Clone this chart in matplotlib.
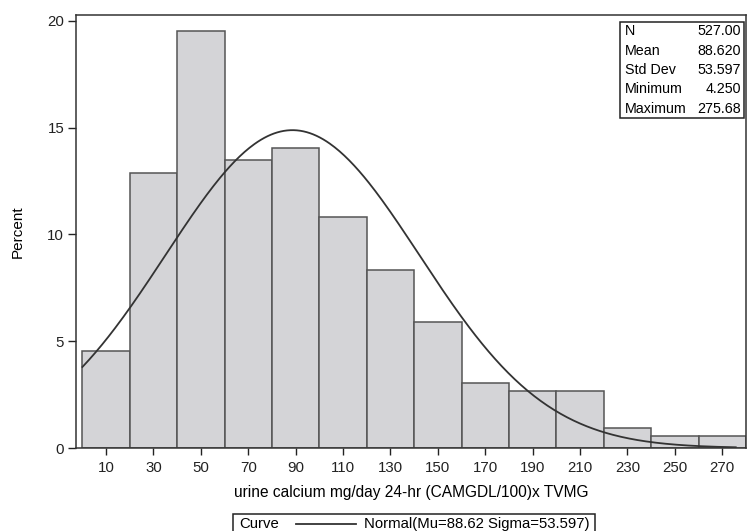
import numpy as np
import matplotlib
matplotlib.use("Agg")
import matplotlib.pyplot as plt
from matplotlib.patches import Rectangle
from matplotlib.lines import Line2D

plt.rcParams['font.family'] = ['Liberation Sans', 'DejaVu Sans']

# histogram bins (mg/day) and counts per bin, N = 527
bin_left = [0, 20, 40, 60, 80, 100, 120, 140, 160, 180, 200, 220, 240, 260]
bin_width = 20
counts = [24, 68, 103, 71, 74, 57, 44, 31, 16, 14, 14, 5, 3, 3]
n_total = 527

# fitted normal
mu = 88.62
sigma = 53.597
x_min = 4.25
x_max = 275.68

stat_names = ["N", "Mean", "Std Dev", "Minimum", "Maximum"]
stat_values = ["527.00", "88.620", "53.597", "4.250", "275.68"]

xticks = [10, 30, 50, 70, 90, 110, 130, 150, 170, 190, 210, 230, 250, 270]
yticks = [0, 5, 10, 15, 20]

W, H = 747, 531
pct = np.array(counts) / n_total * 100

fig = plt.figure(figsize=(W / 100, H / 100), dpi=100)
ax = fig.add_axes([76 / W, (H - 448) / H, 670 / W, 433 / H])

ax.bar(bin_left, pct, width=bin_width, align='edge',
       color='#d4d4d7', edgecolor='#555555', linewidth=1.1)

# normal curve scaled to percent per bin
xs = np.linspace(0, x_max, 400)
ys = bin_width * 100 * np.exp(-0.5 * ((xs - mu) / sigma) ** 2) / (sigma * np.sqrt(2 * np.pi))
ax.plot(xs, ys, color='#333333', linewidth=1.3)

ax.set_xlim(-2.7, 280)
ax.set_ylim(0, 20.28)
ax.set_xticks(xticks)
ax.set_yticks(yticks)
ax.tick_params(direction='out', width=1, labelsize=10.8, colors='#222222')
ax.tick_params(axis='x', length=5, pad=4.5)
ax.tick_params(axis='y', length=6, pad=2.5)
for s in ax.spines.values():
    s.set_color('#333333')
    s.set_linewidth(1.1)

ax.set_xlabel("urine calcium mg/day 24-hr (CAMGDL/100)x TVMG", fontsize=11.2, va='center')
ax.xaxis.set_label_coords(0.5, -(492 - 448) / 433)
ax.set_ylabel("Percent", fontsize=11, va='center')
ax.yaxis.set_label_coords(-(76 - 18) / 670, 0.5)

# stats inset box
bx0, bx1 = 620 / W, 744 / W
by_top, row_h = (H - 21.7) / H, 19.3 / H
fig.patches.append(Rectangle((bx0, by_top - 5 * row_h), bx1 - bx0, 5 * row_h,
                             transform=fig.transFigure, fill=True, facecolor='white',
                             edgecolor='#222222', linewidth=1.1, zorder=5))
for i, (nm, val) in enumerate(zip(stat_names, stat_values)):
    yy = by_top - (i + 0.5) * row_h
    fig.text(bx0 + 5 / W, yy, nm, fontsize=10.3, va='center', ha='left', zorder=6)
    fig.text(bx1 - 3 / W, yy, val, fontsize=10.3, va='center', ha='right', zorder=6)

# legend at bottom (box runs off the bottom edge)
lx0, lx1 = 233 / W, 595 / W
ly0, ly1 = -10 / H, (H - 514) / H
fig.patches.append(Rectangle((lx0, ly0), lx1 - lx0, ly1 - ly0, transform=fig.transFigure,
                             fill=False, edgecolor='#222222', linewidth=1.1))
ly = (H - 524) / H
fig.text(239 / W, ly, "Curve", fontsize=10.7, va='center', ha='left')
fig.lines.append(Line2D([296 / W, 356 / W], [ly, ly], transform=fig.transFigure,
                        color='#333333', linewidth=1.3))
fig.text(364 / W, ly, "Normal(Mu=88.62 Sigma=53.597)", fontsize=10.7, va='center', ha='left')

fig.savefig("out.png", dpi=100)
